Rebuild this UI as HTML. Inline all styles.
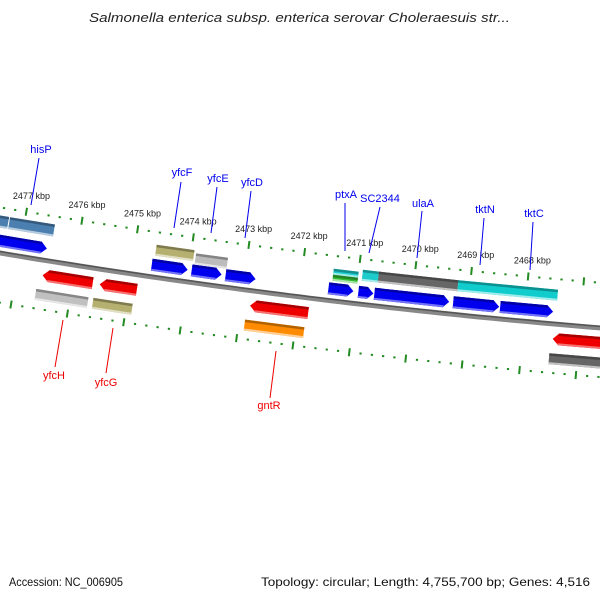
<!DOCTYPE html>
<html><head><meta charset="utf-8"><style>
html,body{margin:0;padding:0;background:#fff;}
svg{display:block;font-family:"Liberation Sans","DejaVu Sans",sans-serif;}
</style></head><body>
<svg id="map" width="600" height="600" viewBox="0 0 600 600" xmlns="http://www.w3.org/2000/svg">
<rect width="600" height="600" fill="#fff"/>
<text x="89" y="22" textLength="421" lengthAdjust="spacingAndGlyphs" font-size="13" font-style="italic" fill="#222">Salmonella enterica subsp. enterica serovar Choleraesuis str...</text>
<text x="9" y="586" textLength="114" lengthAdjust="spacingAndGlyphs" font-size="12" fill="#111">Accession: NC_006905</text>
<text x="261" y="586" textLength="329" lengthAdjust="spacingAndGlyphs" font-size="12" fill="#111">Topology: circular; Length: 4,755,700 bp; Genes: 4,516</text>
<g id="layer"></g>
</svg>
<script>
// tick positions (kbp) and their screen position along the axis
const tickKbp=[2478,2477,2476,2475,2474,2473,2472,2471,2470,2469,2468,2467];
const tickU=[-37,19,75,131,187,243,299,355,411,467,524,580];
// which tick labels are visible
const tickShown=[false,true,true,true,true,true,true,true,true,true,true,false];
// forward genes [start,end]
const fwdGenes=[[-8,45],[150,186],[190,220],[224,254],[327,352],[357,372],[373,448],[452,498],[499,552]];
// forward annotation boxes [start,end,color,offset,thickness]
const fwdBoxes=[[-8,3,'#4a7fb0',-31,12],[4,49,'#4a7fb0',-31,12],[152,190,'#b5b070',-27,11],[192,224,'#bcbcbc',-24,11],
 [330,355,'#1ccccc',-29,6],[330,355,'#33bb33',-23,6],[359,375,'#1ccccc',-29,11],[375,455,'#666666',-29,11],[455,555,'#11cccc',-29,11]];
// reverse genes
const revGenes=[[45,95],[102,139],[252,310],[554,610]];
const revBoxes=[[41,93,'#c0c0c0',35,11],[98,137,'#b5b070',35,11],[249,308,'#ff8c00',35,11],[552,610,'#666666',35,11]];
// gene labels [name, text x, text y, line start, line end]
const fwdLabels=[['hisP',41,153,[39,158],[31,205]],['yfcF',182,176,[181,182],[174,228]],['yfcE',218,182,[217,187],[211,233]],
 ['yfcD',252,186,[251,191],[245,238]],['ptxA',346,198,[345,203],[345,251]],['SC2344',380,202,[380,207],[369,253]],
 ['ulaA',423,207,[422,211],[417,258]],['tktN',485,213,[484,218],[480,265]],['tktC',534,217,[533,222],[530,270]]];
const revLabels=[['yfcH',54,379,[63,320],[55,367]],['yfcG',106,386,[113,328],[106,373]],['gntR',269,409,[276,351],[270,398]]];

const NS='http://www.w3.org/2000/svg';
const layer=document.getElementById('layer');
function Y(u){return 253+0.168*u-7.2e-5*u*u;}
function S(u){return 0.168-1.44e-4*u;}
function P(u,off){const s=S(u),n=Math.sqrt(1+s*s);return [u-s*off/n, Y(u)+off/n];}
function mk(tag,attrs){const e=document.createElementNS(NS,tag);for(const k in attrs)e.setAttribute(k,attrs[k]);layer.appendChild(e);return e;}
function pts(a){return a.map(p=>p[0].toFixed(1)+','+p[1].toFixed(1)).join(' ');}
function shade(c,f){const r=parseInt(c.slice(1,3),16),g=parseInt(c.slice(3,5),16),b=parseInt(c.slice(5,7),16);
 const m=v=>Math.max(0,Math.min(255,Math.round(f>0?v+(255-v)*f:v*(1+f))));return 'rgb('+m(r)+','+m(g)+','+m(b)+')';}

// backbone
let bb=[],bt=[];
for(let u=-10;u<=610;u+=10){bb.push(P(u,0));bt.push(P(u,-1.5));}
let l=mk('polyline',{points:pts(bb),fill:'none',stroke:'#888',"stroke-width":5});

l=mk('polyline',{points:pts(bt),fill:'none',stroke:'#555',"stroke-width":1.5});


// ticks
function tickRow(off,name,withLabels){
 for(let i=0;i<tickU.length;i++){
  const u0=tickU[i];
  const u1=i+1<tickU.length?tickU[i+1]:u0+56;
  for(let k=1;k<5;k++){const u=u0+(u1-u0)*k/5;const a=P(u,off-1),b=P(u,off+1);
   const d=mk('line',{x1:a[0],y1:a[1],x2:b[0],y2:b[1],stroke:'#228b22',"stroke-width":2.2});
   }
  const a=P(u0,off-4),b=P(u0,off+4);
  const t=mk('line',{x1:a[0],y1:a[1],x2:b[0],y2:b[1],stroke:'#228b22',"stroke-width":2});
  
  if(withLabels&&tickShown[i]){const p=P(u0,off-13);
   const tx=mk('text',{x:p[0]+3,y:p[1],"text-anchor":"middle","font-size":9,fill:'#222'});
   tx.textContent=tickKbp[i]+' kbp';
   }
 }
}
tickRow(-45,'forward',true);
tickRow(49,'reverse',false);

function box(s,e,c,off,h,name){
 const q=[P(s,off-h/2),P(e,off-h/2),P(e,off+h/2),P(s,off+h/2)];
 const g=mk('polygon',{points:pts(q),fill:c});
 
 const hi=mk('polygon',{points:pts([P(s,off-h/2),P(e,off-h/2),P(e,off-h/2+2.5),P(s,off-h/2+2.5)]),fill:shade(c,-0.3)});
 
 const lo=mk('polygon',{points:pts([P(s,off+h/2-2),P(e,off+h/2-2),P(e,off+h/2),P(s,off+h/2)]),fill:shade(c,0.6)});
 
}
function arrow(s,e,off,h,c,fwd,name){
 const hd=6;let q;
 if(fwd)q=[P(s,off-h/2),P(e-hd,off-h/2),P(e,off),P(e-hd,off+h/2),P(s,off+h/2)];
 else q=[P(s+hd,off-h/2),P(e,off-h/2),P(e,off+h/2),P(s+hd,off+h/2),P(s,off)];
 const g=mk('polygon',{points:pts(q),fill:c});
 
 const top=fwd?[P(s,off-h/2),P(e-hd,off-h/2),P(e-hd+1,off-h/2+2.5),P(s,off-h/2+2.5)]:[P(s+hd,off-h/2),P(e,off-h/2),P(e,off-h/2+2.5),P(s+hd-1,off-h/2+2.5)];
 const t=mk('polygon',{points:pts(top),fill:shade(c,-0.3)});
 
 const bot=fwd?[P(s,off+h/2-2),P(e-hd+1,off+h/2-2),P(e-hd,off+h/2),P(s,off+h/2)]:[P(s+hd-1,off+h/2-2),P(e,off+h/2-2),P(e,off+h/2),P(s+hd,off+h/2)];
 const b=mk('polygon',{points:pts(bot),fill:shade(c,0.45)});
 
}
fwdBoxes.forEach(b=>box(b[0],b[1],b[2],b[3],b[4],'forward-feature'));
fwdGenes.forEach(g=>arrow(g[0],g[1],-12,12,'#0000ee',true,'forward-gene'));
revGenes.forEach(g=>arrow(g[0],g[1],15,12,'#ee0000',false,'reverse-gene'));
revBoxes.forEach(b=>box(b[0],b[1],b[2],b[3],b[4],'reverse-feature'));

function labels(arr,color,kind){
 arr.forEach(a=>{
  const ln=mk('line',{x1:a[3][0],y1:a[3][1],x2:a[4][0],y2:a[4][1],stroke:color,"stroke-width":1});
  
  const t=mk('text',{x:a[1],y:a[2],"text-anchor":"middle","font-size":11,fill:color});
  t.textContent=a[0];
  
 });
}
labels(fwdLabels,'#0000ee','forward');
labels(revLabels,'#ee0000','reverse');
</script>
</body></html>
